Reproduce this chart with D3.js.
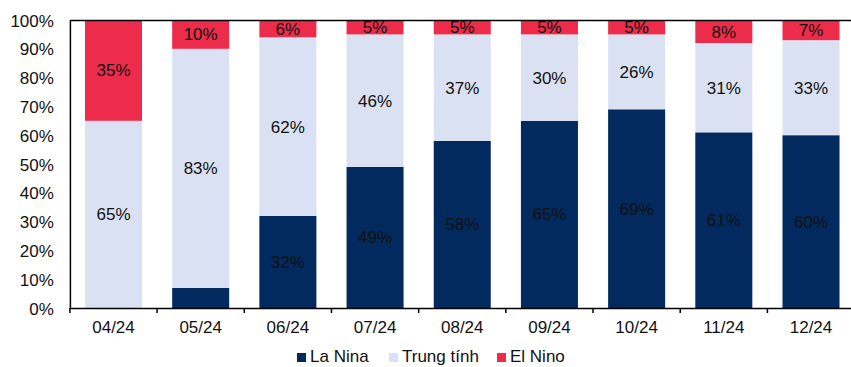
<!DOCTYPE html>
<html><head><meta charset="utf-8">
<script src="https://cdn.jsdelivr.net/npm/d3@7"></script>
<style>body{margin:0;background:#fff}svg{display:block;font-family:"Liberation Sans",Arial,sans-serif}</style>
</head><body><svg id="c" width="851" height="367"></svg>
<script>
const categories = ["04/24","05/24","06/24","07/24","08/24","09/24","10/24","11/24","12/24"];
const laNina    = [0, 7, 32, 49, 58, 65, 69, 61, 60];
const trungTinh = [65, 83, 62, 46, 37, 30, 26, 31, 33];
const elNino    = [35, 10, 6, 5, 5, 5, 5, 8, 7];
const seriesNames = ["La Nina","Trung tính","El Nino"];
const colors = ["#022A5E","#D9E1F2","#EC2C4A"];
const yTicks = [0,10,20,30,40,50,60,70,80,90,100];

const rows = categories.map((c,i)=>({cat:c,"La Nina":laNina[i],"Trung tính":trungTinh[i],"El Nino":elNino[i]}));
const stack = d3.stack().keys(seriesNames)(rows);

const svg = d3.select("#c");
const mLeft = 69.9, mRight = 854.6, mTop = 20, mBottom = 308;
const x = d3.scaleBand().domain(categories).range([mLeft,mRight]).paddingInner(0.346).paddingOuter(0.173);
const y = d3.scaleLinear().domain([0,100]).range([mBottom,mTop]);
const color = d3.scaleOrdinal().domain(seriesNames).range(colors);

// bars
const g = svg.append("g");
stack.forEach(s=>{
  g.selectAll(null).data(s).enter().append("rect")
    .attr("x",d=>x(d.data.cat)).attr("width",x.bandwidth())
    .attr("y",d=>y(d[1])).attr("height",d=>y(d[0])-y(d[1]))
    .attr("fill",color(s.key));
  // the reference omits the label of the small La Nina segment
  const shown = s.filter(d=>d[1]-d[0]>0 && !(s.key==="La Nina" && d[1]-d[0]<10));
  g.selectAll(null).data(shown).enter().append("text")
    .attr("x",d=>x(d.data.cat)+x.bandwidth()/2)
    .attr("y",d=>(y(d[0])+y(d[1]))/2+6)
    .attr("text-anchor","middle").attr("font-size",17).attr("fill","#111")
    .text(d=>(d[1]-d[0])+"%");
});

// frame line on top
svg.append("line").attr("x1",mLeft).attr("x2",851).attr("y1",mTop+0.5).attr("y2",mTop+0.5).attr("stroke","#000").attr("stroke-width",1.5);

// y axis
const ya = svg.append("g").attr("transform",`translate(${mLeft},0)`)
  .call(d3.axisLeft(y).tickValues(yTicks).tickSize(0).tickPadding(16).tickFormat(d=>d+"%"));
ya.select(".domain").attr("stroke","#000").attr("stroke-width",1.5);
ya.selectAll("text").attr("font-size",17).attr("fill","#111").attr("font-family","Liberation Sans, Arial, sans-serif").attr("dy","0.36em");

// x axis
const xa = svg.append("g").attr("transform",`translate(0,${mBottom})`)
  .call(d3.axisBottom(x).tickSize(0).tickPadding(13));
xa.select(".domain").attr("stroke","#000").attr("stroke-width",1.5);
xa.selectAll("text").attr("font-size",17).attr("fill","#111").attr("font-family","Liberation Sans, Arial, sans-serif");
const bounds = categories.map((c,i)=>mLeft + i*x.step());
xa.selectAll(".bt").data(bounds).enter().append("line")
  .attr("x1",d=>d).attr("x2",d=>d).attr("y1",0).attr("y2",5).attr("stroke","#000").attr("stroke-width",1.5);

// legend
const legX = [297, 389, 497];
const leg = svg.append("g");
seriesNames.forEach((n,i)=>{
  leg.append("rect").attr("x",legX[i]).attr("y",353).attr("width",9).attr("height",9).attr("fill",colors[i]);
  leg.append("text").attr("x",legX[i]+13).attr("y",362).attr("font-size",17).attr("fill","#111").text(n);
});
</script></body></html>
